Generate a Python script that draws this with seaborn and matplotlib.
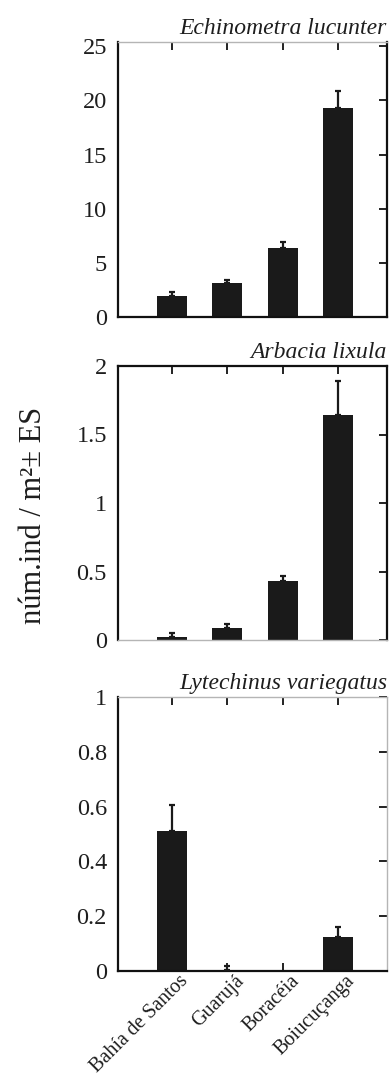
import numpy as np
import matplotlib
matplotlib.use("Agg")
import matplotlib.pyplot as plt
import matplotlib.transforms as mtrans
import seaborn as sns

sites = ["Bahía de Santos", "Guarujá", "Boracéia", "Boiucuçanga"]

species = ["Echinometra lucunter", "Arbacia lixula", "Lytechinus variegatus"]

echinometra_mean = [1.95, 3.1, 6.4, 19.35]
echinometra_se = [0.35, 0.35, 0.5, 1.55]

arbacia_mean = [0.02, 0.09, 0.43, 1.64]
arbacia_se = [0.03, 0.03, 0.04, 0.25]

lytechinus_mean = [0.51, 0.004, 0.0, 0.123]
lytechinus_se = [0.095, 0.016, 0.0, 0.037]

ylims = [(0, 25.4), (0, 2), (0, 1)]
yticks = [[0, 5, 10, 15, 20, 25], [0, 0.5, 1, 1.5, 2], [0, 0.2, 0.4, 0.6, 0.8, 1]]
yticklabels = [["0", "5", "10", "15", "20", "25"],
               ["0", "0.5", "1", "1.5", "2"],
               ["0", "0.2", "0.4", "0.6", "0.8", "1"]]
ylabel = "núm.ind / m²± ES"

sns.set_theme(style="white")
plt.rcParams["font.family"] = ["Liberation Serif", "DejaVu Serif"]

W, H = 391, 1078
fig = plt.figure(figsize=(W / 100, H / 100), dpi=100)

# (top, bottom) pixel rows of each panel
rows = [(42, 317), (366, 640), (697, 971)]
left_px, right_px = 118, 387

# spine colours: (top, right, bottom)
dark, light = "#111111", "#b5b5b5"
spine_cols = [(light, dark, dark), (dark, dark, light), (light, light, dark)]

means = [echinometra_mean, arbacia_mean, lytechinus_mean]
ses = [echinometra_se, arbacia_se, lytechinus_se]
barcol = "#1a1a1a"
txtcol = "#1e1e1e"

for i in range(3):
    t, b = rows[i]
    ax = fig.add_axes([left_px / W, 1 - b / H, (right_px - left_px) / W, (b - t) / H])
    sns.barplot(x=sites, y=means[i], color=barcol, saturation=1, width=0.54,
                linewidth=0, ax=ax, zorder=2)
    m = np.array(means[i])
    s = np.array(ses[i])
    x = np.arange(len(sites))
    ok = s > 0
    ax.errorbar(x[ok], m[ok], yerr=[np.zeros(ok.sum()), s[ok]], fmt="none",
                ecolor=barcol, elinewidth=1.6, capsize=2.4, capthick=1.6, zorder=3)
    ax.set_xlim(-0.98, 3.89)
    ax.set_ylim(*ylims[i])
    ax.set_yticks(yticks[i])
    ax.set_yticklabels(yticklabels[i], fontsize=17.5, color=txtcol)
    ax.set_ylabel("")
    ax.set_xlabel("")
    ax.tick_params(axis="y", which="both", left=False, right=True, direction="in",
                   length=6, width=1.3, color=dark, pad=8)
    ax.tick_params(axis="x", which="both", top=True, bottom=True, direction="in",
                   length=6, width=1.3, color=dark)
    ax.spines["left"].set_color(dark)
    ax.spines["left"].set_linewidth(1.6)
    for name, col in zip(["top", "right", "bottom"], spine_cols[i]):
        ax.spines[name].set_color(col)
        ax.spines[name].set_linewidth(1.6 if col == dark else 1.0)
    ax.set_title(species[i], loc="right", fontsize=17, style="italic",
                 color=txtcol, pad=6)
    if i < 2:
        ax.set_xticklabels([])
    else:
        ax.set_xticks(x)
        ax.set_xticklabels(sites, rotation=45, ha="right", rotation_mode="anchor",
                           fontsize=14.5, color=txtcol)
        ax.tick_params(axis="x", pad=1)
        off = mtrans.ScaledTranslation(7 / 100, 1 / 100, fig.dpi_scale_trans)
        for lab in ax.get_xticklabels():
            lab.set_transform(lab.get_transform() + off)

fig.text(34 / W, 1 - 515 / H, ylabel, rotation=90, ha="center", va="center",
         fontsize=22, color=txtcol)

fig.savefig("out.png", dpi=100)
